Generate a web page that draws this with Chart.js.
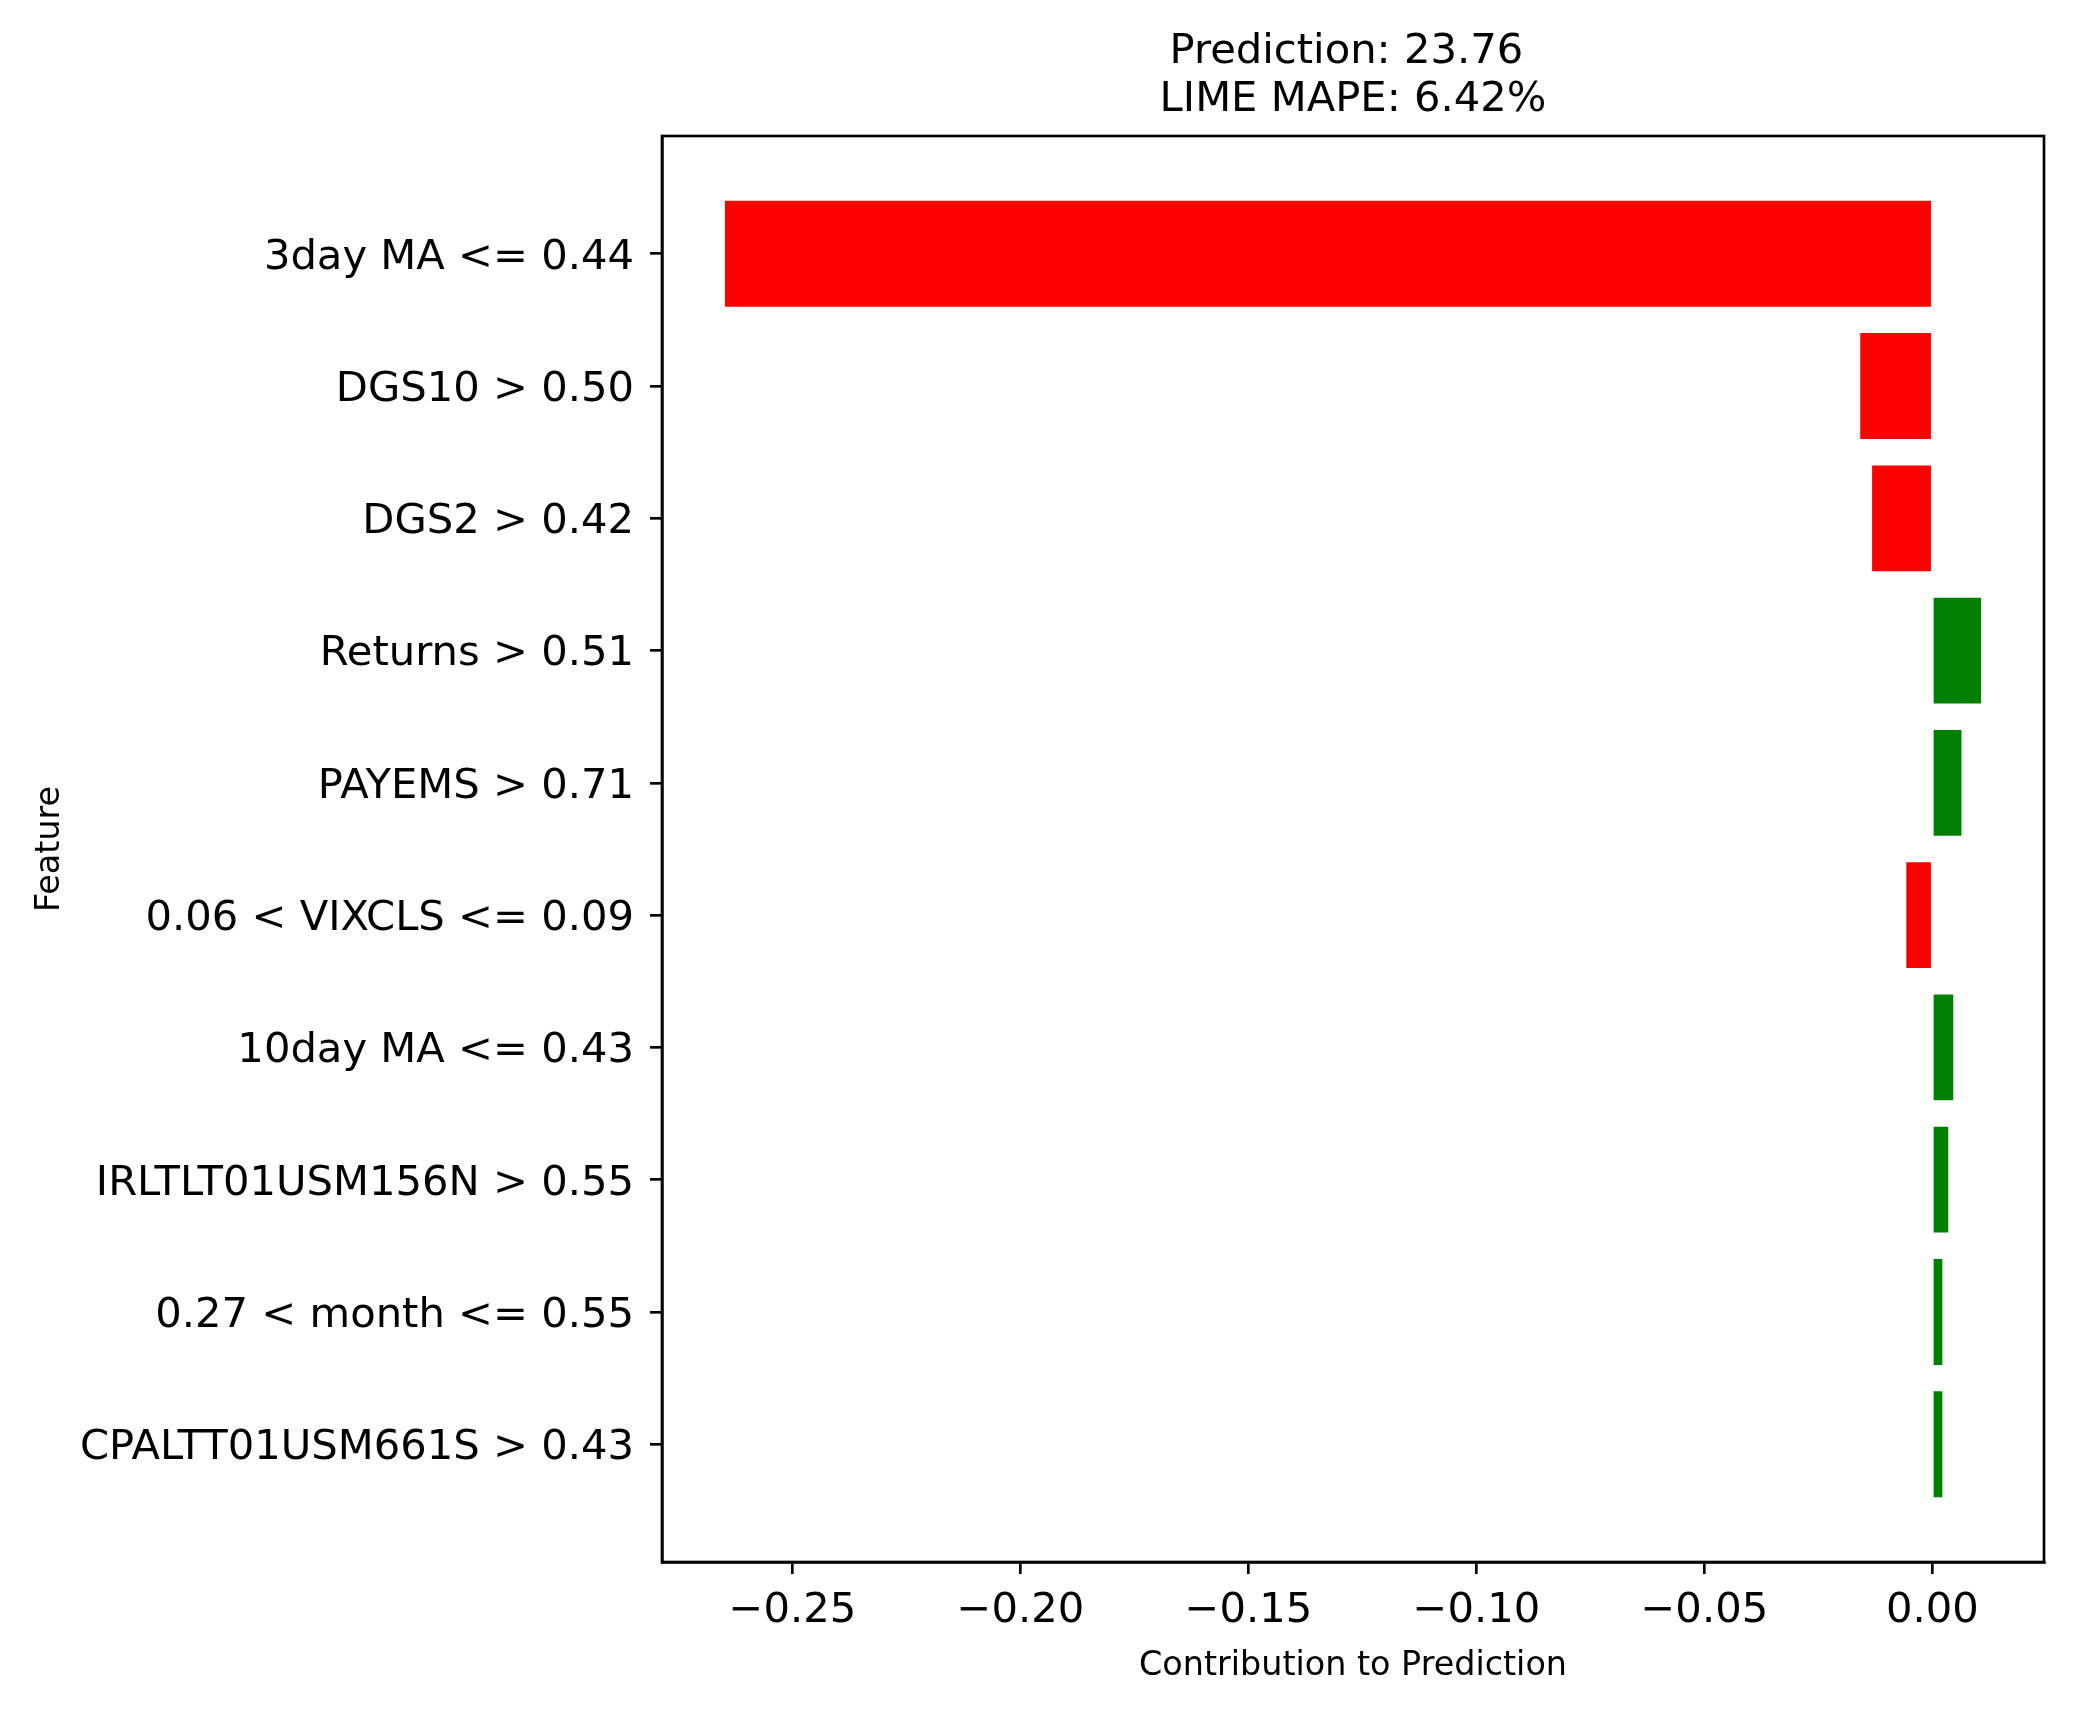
<!DOCTYPE html>
<html>
<head>
<meta charset="utf-8">
<title>LIME explanation</title>
<script src="https://cdn.jsdelivr.net/npm/chart.js@4.4.1/dist/chart.umd.min.js"></script>
<style>
  body { margin: 0; background: #fff; }
  canvas { display: block; }
</style>
</head>
<body>
<canvas id="canvasChart" width="2074" height="1713"></canvas>
<script>
// features in the order they are listed, top to bottom
var features = [
  '3day MA <= 0.44',
  'DGS10 > 0.50',
  'DGS2 > 0.42',
  'Returns > 0.51',
  'PAYEMS > 0.71',
  '0.06 < VIXCLS <= 0.09',
  '10day MA <= 0.43',
  'IRLTLT01USM156N > 0.55',
  '0.27 < month <= 0.55',
  'CPALTT01USM661S > 0.43'
];
var contributions = [-0.2648, -0.0158, -0.0132, 0.0107, 0.0064, -0.0057, 0.0046, 0.0035, 0.0022, 0.0022];
var xTicks = [-0.25, -0.20, -0.15, -0.10, -0.05, 0.00];
var titleLines = ['Prediction: 23.76 ', 'LIME MAPE: 6.42%'];

const LW = 2.67; // 0.8pt spines and ticks
const BIG = 41.7;
const SMALL = 33.4;

Chart.defaults.font.family = '"DejaVu Sans", sans-serif';
Chart.defaults.color = '#000';

function formatTick(v) {
  if (Math.abs(v) < 1e-9) return '0.00';
  return (v < 0 ? '\u2212' : '') + Math.abs(v).toFixed(2);
}

const frame = {
  id: 'frame',
  afterDraw(chart) {
    const ctx = chart.ctx;
    const area = chart.chartArea;
    ctx.save();
    ctx.strokeStyle = '#000';
    ctx.lineWidth = LW;
    ctx.strokeRect(area.left, area.top, area.right - area.left, area.bottom - area.top);
    ctx.fillStyle = '#000';
    ctx.font = BIG + 'px "DejaVu Sans"';
    ctx.textAlign = 'center';
    ctx.textBaseline = 'alphabetic';
    var cx = (area.left + area.right) / 2;
    ctx.fillText(titleLines[0], cx, area.top - 73);
    ctx.fillText(titleLines[1], cx, area.top - 25);
    ctx.restore();
  }
};

function renderChart() {
  var canvas = document.getElementById('canvasChart');
  var points = contributions.map((v, i) => ({ x: v, y: i }));
  new Chart(canvas, {
    type: 'bar',
    data: {
      datasets: [{
        data: points,
        backgroundColor: contributions.map(v => v > 0 ? '#008000' : '#ff0000'),
        borderWidth: 0,
        barPercentage: 1,
        categoryPercentage: 0.8
      }]
    },
    options: {
      indexAxis: 'y',
      responsive: false,
      animation: false,
      devicePixelRatio: 1,
      layout: { padding: { top: 136, right: 30, bottom: 0, left: 0 } },
      plugins: {
        legend: { display: false },
        title: { display: false },
        tooltip: { enabled: false }
      },
      scales: {
        x: {
          type: 'linear',
          min: -0.2786,
          max: 0.0245,
          afterBuildTicks: (scale) => { scale.ticks = xTicks.map(v => ({ value: v })); },
          afterFit: (scale) => { scale.height = 151; },
          ticks: {
            font: { size: BIG, lineHeight: 1.2 },
            padding: 12,
            maxRotation: 0,
            callback: (v) => formatTick(v)
          },
          grid: { drawOnChartArea: false, drawTicks: true, tickLength: 12, color: '#000', lineWidth: LW },
          border: { display: true, color: '#000', width: LW },
          title: {
            display: true,
            text: 'Contribution to Prediction',
            font: { size: SMALL, lineHeight: 1.2 },
            padding: { top: 0, bottom: 27 }
          }
        },
        y: {
          type: 'linear',
          min: -0.89,
          max: 9.89,
          reverse: true,
          offset: false,
          afterBuildTicks: (scale) => { scale.ticks = features.map((f, i) => ({ value: i })); },
          afterFit: (scale) => { scale.width = 662; },
          ticks: {
            font: { size: BIG, lineHeight: 1.2 },
            padding: 16,
            labelOffset: 4,
            callback: (v) => features[v]
          },
          grid: { offset: false, drawOnChartArea: false, drawTicks: true, tickLength: 12, color: '#000', lineWidth: LW },
          border: { display: true, color: '#000', width: LW },
          title: {
            display: true,
            text: 'Feature',
            font: { size: SMALL, lineHeight: 1.2 },
            padding: { top: 30, bottom: 0 }
          }
        }
      }
    },
    plugins: [frame]
  });
}

renderChart();
</script>
</body>
</html>
